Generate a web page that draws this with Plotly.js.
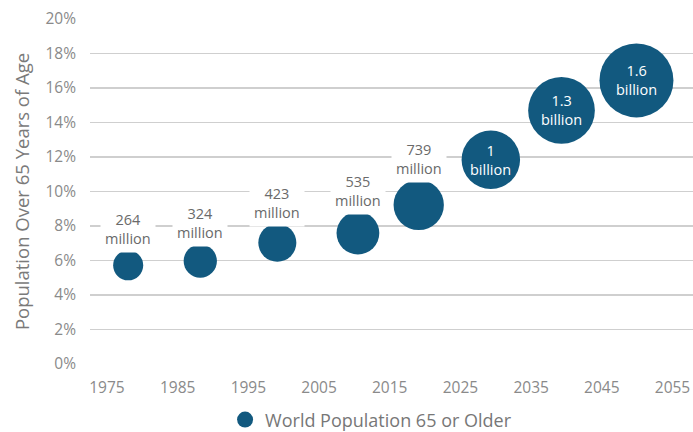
<!DOCTYPE html>
<html>
<head>
<meta charset="utf-8">
<script src="https://cdn.plot.ly/plotly-3.0.1.min.js"></script>
<style>html,body{margin:0;padding:0;background:#fff;}#chart{width:693px;height:432px;}</style>
</head>
<body>
<div id="chart"></div>
<script>
// Data
var years = [1978, 1988.2, 1999.1, 2010.5, 2019.1, 2029.3, 2039.3, 2049.9];
var sharePct = [5.72, 5.97, 7.03, 7.59, 9.22, 11.84, 14.7, 16.44];
var populationMillions = [264, 324, 423, 535, 739, 1000, 1300, 1600];
var bubbleLabels = ["264<br>million", "324<br>million", "423<br>million", "535<br>million",
                    "739<br>million", "1<br>billion", "1.3<br>billion", "1.6<br>billion"];
var xTickVals = [1975, 1985, 1995, 2005, 2015, 2025, 2035, 2045, 2055];
var yTickVals = [0, 2, 4, 6, 8, 10, 12, 14, 16, 18, 20];
var yTickText = ["0%", "2%", "4%", "6%", "8%", "10%", "12%", "14%", "16%", "18%", "20%"];
var seriesName = "World Population 65 or Older";

var BUBBLE = "#12597f";
var SIZEREF = 0.5844; // area-scaled bubbles
var FONT = "Open Sans, Arial, sans-serif";

function radiusOf(v) { return Math.sqrt(v / 2 / SIZEREF); }

var annotations = years.map(function (yr, i) {
  var inside = populationMillions[i] >= 1000;
  return {
    x: yr, y: sharePct[i], xref: "x", yref: "y",
    text: bubbleLabels[i], showarrow: false,
    xanchor: "center", yanchor: "middle",
    yshift: inside ? 0 : radiusOf(populationMillions[i]) + 21,
    bgcolor: inside ? "rgba(0,0,0,0)" : "#ffffff",
    borderpad: 4,
    font: { family: FONT, size: 14.5, color: inside ? "#ffffff" : "#6a6a6a" }
  };
});

var trace = {
  type: "scatter", mode: "markers",
  x: years, y: sharePct, name: seriesName,
  marker: {
    size: populationMillions, sizemode: "area", sizeref: SIZEREF,
    color: BUBBLE, opacity: 1, line: { width: 0 }
  },
  hoverinfo: "none"
};

var layout = {
  width: 693, height: 432,
  margin: { l: 90, r: 0, t: 19, b: 68, pad: 0, autoexpand: false },
  paper_bgcolor: "#ffffff", plot_bgcolor: "#ffffff",
  font: { family: FONT, color: "#8a8a8a" },
  showlegend: true,
  legend: {
    orientation: "h", x: 0.224, xanchor: "left",
    yref: "container", y: 0.028, yanchor: "middle",
    font: { family: FONT, size: 18, color: "#777777" }, bgcolor: "rgba(0,0,0,0)"
  },
  xaxis: {
    range: [1972.6, 2057.9], tickmode: "array", tickvals: xTickVals,
    showgrid: false, zeroline: false, showline: false, ticks: "",
    ticklabelstandoff: 12, automargin: false,
    tickfont: { family: FONT, size: 15.5, color: "#8a8a8a" }
  },
  yaxis: {
    range: [0, 20], tickmode: "array", tickvals: yTickVals, ticktext: yTickText,
    showgrid: true, gridcolor: "#cfcfcf", gridwidth: 1.5,
    zeroline: false, showline: false, ticks: "",
    ticklabelstandoff: 13, automargin: false,
    tickfont: { family: FONT, size: 15.5, color: "#8a8a8a" },
    title: { text: "Population Over 65 Years of Age", standoff: 10,
             font: { family: FONT, size: 18.5, color: "#7a7a7a" } }
  },
  annotations: annotations
};

Plotly.newPlot("chart", [trace], layout, { displayModeBar: false, staticPlot: true });
</script>
</body>
</html>
